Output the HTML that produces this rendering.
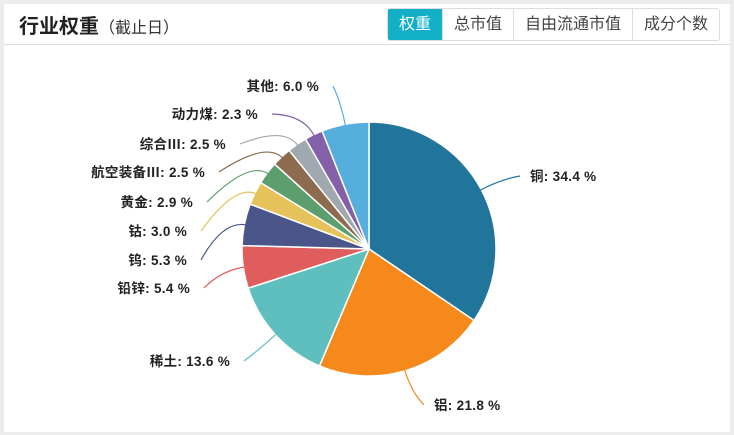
<!DOCTYPE html>
<html><head><meta charset="utf-8"><style>
html,body{margin:0;padding:0;}
body{width:734px;height:435px;background:#ececec;position:relative;overflow:hidden;font-family:"Liberation Sans","Noto Sans CJK SC",sans-serif;}
.card{position:absolute;left:4px;top:4px;width:726px;height:428px;background:#fff;}
.hdr{position:absolute;left:0;top:0;width:726px;height:40px;border-bottom:1px solid #ddd;}
.t{position:absolute;left:15px;top:6px;font-size:20px;font-weight:bold;color:#222;}
.t span{font-size:16px;font-weight:normal;color:#333;}
.btns{position:absolute;left:383px;top:4px;height:31px;display:flex;border:1px solid #ddd;border-radius:3px;overflow:hidden;}
.btns div{padding:0 11px;line-height:31px;font-size:16px;color:#444;border-left:1px solid #ddd;}
.btns div:first-child{border-left:none;background:#12afc7;color:#fff;}
svg{position:absolute;left:0;top:0;}
</style></head><body>
<div class="card"><div class="hdr"><div class="t">行业权重<span>（截止日）</span></div>
<div class="btns"><div>权重</div><div>总市值</div><div>自由流通市值</div><div>成分个数</div></div></div></div>
<svg id="s" width="734" height="435"></svg>
<script>
var d=[["铜",34.4,"#21759b",[520,176],0],["铝",21.8,"#f5891c",[424,405],0],["稀土",13.6,"#5fbfbf",[244,361],1],["铅锌",5.4,"#e05d5d",[204,288],1],["钨",5.3,"#4a5689",[201,260],1],["钴",3.0,"#e6c35a",[201,231],1],["黄金",2.9,"#5d9e6e",[207,202],1],["航空装备Ⅲ",2.5,"#8c6b4f",[219,172],1],["综合Ⅲ",2.5,"#a0a8b0",[240,144],1],["动力煤",2.3,"#8460a8",[272,114],1],["其他",6.0,"#56aedc",[333,86],1]];
var cx=369,cy=249,r=127,tot=0;d.forEach(function(x){tot+=x[1]});
var h="",a=-Math.PI/2;
d.forEach(function(x){var s=x[1]/tot*2*Math.PI,b=a+s,m=a+s/2;
var x1=cx+r*Math.cos(a),y1=cy+r*Math.sin(a),x2=cx+r*Math.cos(b),y2=cy+r*Math.sin(b);
h+='<path d="M'+cx+' '+cy+'L'+x1+' '+y1+'A'+r+' '+r+' 0 '+(s>Math.PI?1:0)+' 1 '+x2+' '+y2+'Z" fill="'+x[2]+'" stroke="#fff" stroke-width="1.5"/>';
var ex=cx+(r-2)*Math.cos(m),ey=cy+(r-2)*Math.sin(m),qx=cx+(r+22)*Math.cos(m),qy=cy+(r+22)*Math.sin(m);
var L=x[3];
h+='<path d="M'+ex+' '+ey+'Q'+qx+' '+qy+' '+L[0]+' '+L[1]+'" fill="none" stroke="'+x[2]+'" stroke-width="1.2"/>';
var tx=x[4]?L[0]-14:L[0]+10;
h+='<text x="'+tx+'" y="'+(L[1]+5)+'" text-anchor="'+(x[4]?"end":"start")+'" font-size="13.5" letter-spacing="0.3" font-weight="bold" fill="#222">'+x[0]+': '+x[1].toFixed(1)+' %</text>';
a=b;});
document.getElementById("s").innerHTML=h;
</script>
</body></html>
